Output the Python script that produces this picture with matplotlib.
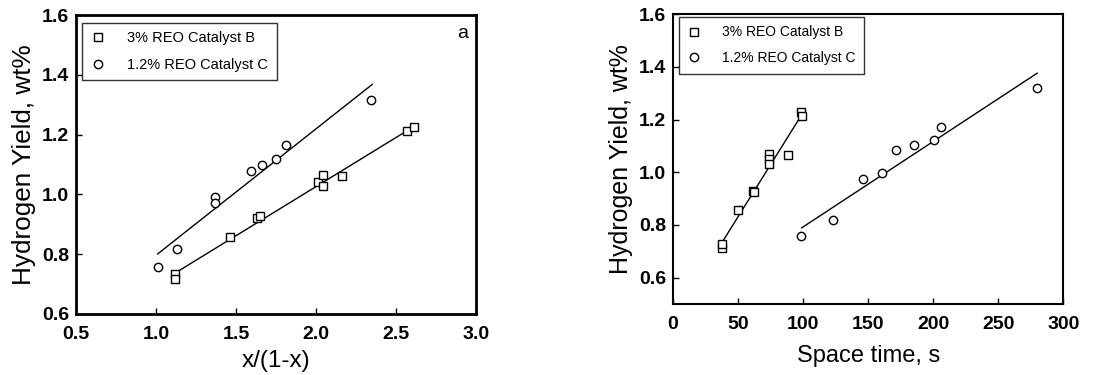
import numpy as np
import matplotlib.pyplot as plt

plt.rcParams['font.family'] = ['Liberation Sans', 'DejaVu Sans']

# panel a: hydrogen yield vs x/(1-x)
conv_b = [1.12, 1.12, 1.46, 1.63, 1.65, 2.01, 2.04, 2.04, 2.16, 2.57, 2.61]
yield_b = [0.734, 0.716, 0.856, 0.920, 0.928, 1.043, 1.065, 1.029, 1.062, 1.212, 1.224]
conv_c = [1.01, 1.13, 1.37, 1.37, 1.59, 1.66, 1.75, 1.81, 2.34]
yield_c = [0.756, 0.816, 0.992, 0.972, 1.078, 1.097, 1.117, 1.167, 1.316]
# fitted lines (end points)
fit_conv_b = [1.11, 2.61]
fit_yield_b = [0.734, 1.227]
fit_conv_c = [1.01, 2.35]
fit_yield_c = [0.801, 1.368]

# panel b: hydrogen yield vs space time
st_b = [37.5, 38.0, 49.6, 61.1, 61.9, 74.0, 74.0, 74.0, 88.1, 98.4, 98.9]
yst_b = [0.713, 0.727, 0.857, 0.930, 0.924, 1.070, 1.050, 1.030, 1.065, 1.228, 1.215]
st_c = [98.4, 122.8, 145.9, 160.3, 171.3, 184.9, 200.9, 206.3, 279.5]
yst_c = [0.758, 0.819, 0.976, 0.996, 1.083, 1.102, 1.121, 1.170, 1.321]
fit_st_b = [36.2, 98.9]
fit_yst_b = [0.722, 1.218]
fit_st_c = [98.9, 280.0]
fit_yst_c = [0.789, 1.376]

lab_b = '3% REO Catalyst B'
lab_c = '1.2% REO Catalyst C'

fig = plt.figure(figsize=(11.18, 3.75), dpi=100)
ax1 = fig.add_axes([0.068, 0.1627, 0.358, 0.797])
ax2 = fig.add_axes([0.602, 0.1893, 0.349, 0.773])

mk = dict(linestyle='none', mfc='white', mec='black', mew=1.0)


def style(ax, lw):
    for s in ax.spines.values():
        s.set_linewidth(lw)
    ax.tick_params(direction='in', length=4, width=1, labelsize=14,
                   top=False, right=False)
    ax.tick_params(axis='x', pad=8.5)
    ax.tick_params(axis='y', pad=5)
    for t in ax.get_xticklabels() + ax.get_yticklabels():
        t.set_fontweight('bold')


def add_legend(ax, top, size):
    leg = ax.legend(loc='upper left', bbox_to_anchor=(0.015, top),
                    fontsize=size, frameon=True, fancybox=False,
                    edgecolor='black', handlelength=1.0, handletextpad=1.5,
                    borderpad=0.6, labelspacing=0.85, borderaxespad=0)
    leg.get_frame().set_linewidth(1)


# left panel
ax1.plot(fit_conv_b, fit_yield_b, color='black', lw=1)
ax1.plot(fit_conv_c, fit_yield_c, color='black', lw=1)
ax1.plot(conv_b, yield_b, marker='s', ms=6, label=lab_b, **mk)
ax1.plot(conv_c, yield_c, marker='o', ms=6, label=lab_c, **mk)
ax1.set_xlim(0.5, 3.0)
ax1.set_ylim(0.6, 1.6)
ax1.set_xticks(np.arange(0.5, 3.01, 0.5))
ax1.set_yticks(np.arange(0.6, 1.61, 0.2))
ax1.xaxis.set_major_formatter(plt.FormatStrFormatter('%.1f'))
ax1.yaxis.set_major_formatter(plt.FormatStrFormatter('%.1f'))
style(ax1, 2)
ax1.set_xlabel('x/(1-x)', fontsize=17.5, labelpad=5)
ax1.set_ylabel('Hydrogen Yield, wt%', fontsize=18.8, labelpad=4)
ax1.text(0.965, 0.94, 'a', transform=ax1.transAxes, fontsize=14,
         ha='center', va='center')
add_legend(ax1, 0.975, 10.5)

# right panel
ax2.plot(fit_st_b, fit_yst_b, color='black', lw=1)
ax2.plot(fit_st_c, fit_yst_c, color='black', lw=1)
ax2.plot(st_b, yst_b, marker='s', ms=6, label=lab_b, **mk)
ax2.plot(st_c, yst_c, marker='o', ms=6, label=lab_c, **mk)
ax2.set_xlim(0, 300)
ax2.set_ylim(0.5, 1.6)
ax2.set_xticks(np.arange(0, 301, 50))
ax2.set_yticks(np.arange(0.6, 1.61, 0.2))
ax2.yaxis.set_major_formatter(plt.FormatStrFormatter('%.1f'))
style(ax2, 1.5)
ax2.set_xlabel('Space time, s', fontsize=17, labelpad=9)
ax2.set_ylabel('Hydrogen Yield, wt%', fontsize=18, labelpad=4)
add_legend(ax2, 0.99, 10)

fig.savefig('out.png', dpi=100)
